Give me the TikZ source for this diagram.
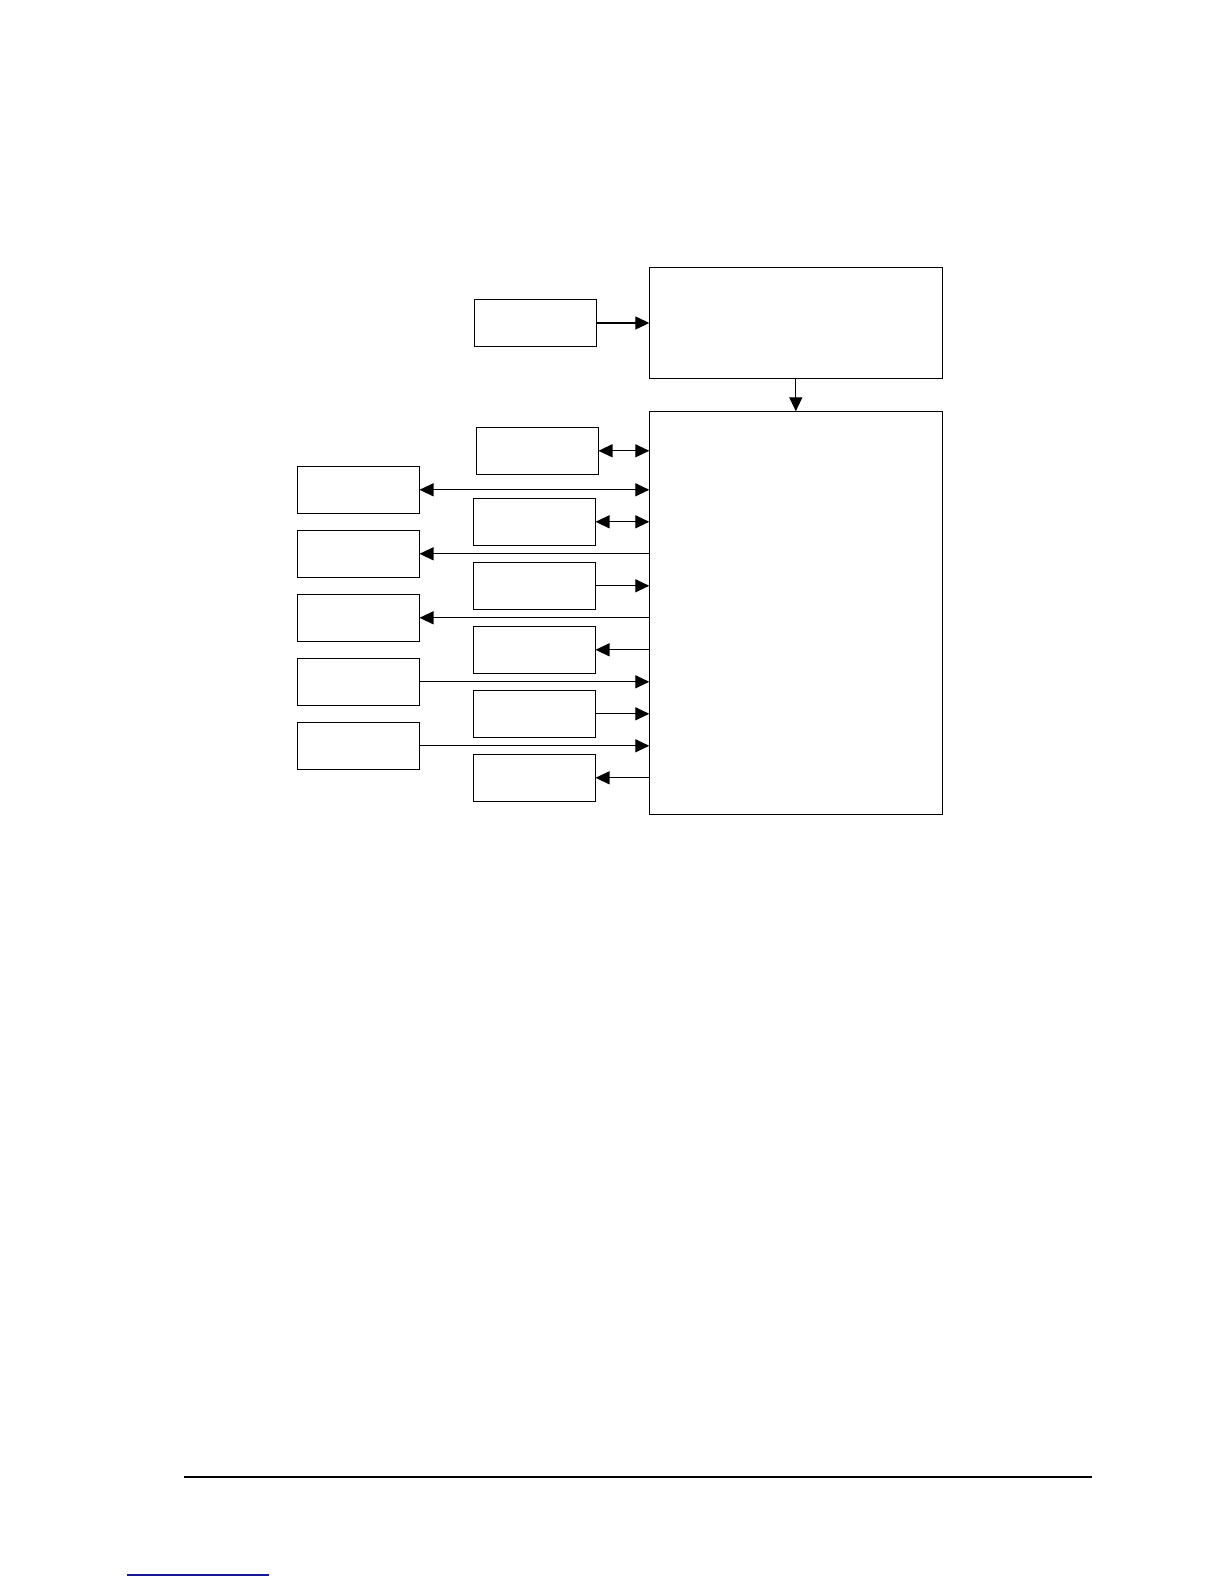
\documentclass[tikz,border=0pt]{standalone}
\usetikzlibrary{arrows.meta}
\definecolor{linkblue}{RGB}{24,24,150}
\tikzset{
	blk/.style={draw, line width=0.7pt, minimum width=61pt, minimum height=23.5pt, inner sep=0pt, outer sep=0pt},
	bigblk/.style={blk, minimum width=146.5pt},
	conn/.style={line width=0.6pt},
	>={Triangle[length=7pt,width=6.5pt]}
}
\begin{document}
\begin{tikzpicture}[x=0.5pt,y=-0.5pt]
	\useasboundingbox (0,0) rectangle (1224,1584);
	% upper blocks
	\node[blk] (pwr) at (535.5,323) {};
	\node[bigblk, minimum height=55.5pt] (top) at (795.8,322.8) {};
	\node[bigblk, minimum height=201.5pt] (main) at (795.8,612.8) {};
	% middle column
	\node[blk] (midA) at (537.5,450.8) {};
	\foreach \n/\y in {B/521.8,C/585.8,D/649.8,E/713.8,F/777.8}{
		\node[blk] (mid\n) at (534.5,\y) {};
	}
	% left column
	\foreach \n/\y in {1/489.8,2/553.8,3/617.8,4/681.8,5/745.8}{
		\node[blk] (left\n) at (358.5,\y) {};
	}
	% connectors
	\draw[conn,->] (pwr.east) -- (pwr.east -| top.west);
	\draw[conn,->] (top.south) -- (main.north);
	\draw[conn,<->] (midA.east) -- (midA.east -| main.west);
	\draw[conn,<->] (left1.east) -- (left1.east -| main.west);
	\draw[conn,<->] (midB.east) -- (midB.east -| main.west);
	\draw[conn,->] (left2.east -| main.west) -- (left2.east);
	\draw[conn,->] (midC.east) -- (midC.east -| main.west);
	\draw[conn,->] (left3.east -| main.west) -- (left3.east);
	\draw[conn,->] (midD.east -| main.west) -- (midD.east);
	\draw[conn,->] (left4.east) -- (left4.east -| main.west);
	\draw[conn,->] (midE.east) -- (midE.east -| main.west);
	\draw[conn,->] (left5.east) -- (left5.east -| main.west);
	\draw[conn,->] (midF.east -| main.west) -- (midF.east);
	% page footer
	\draw[line width=0.6pt] (184,1477) -- (1092,1477);
	\draw[linkblue, line width=0.6pt] (127,1575) -- (269,1575);
\end{tikzpicture}
\end{document}
